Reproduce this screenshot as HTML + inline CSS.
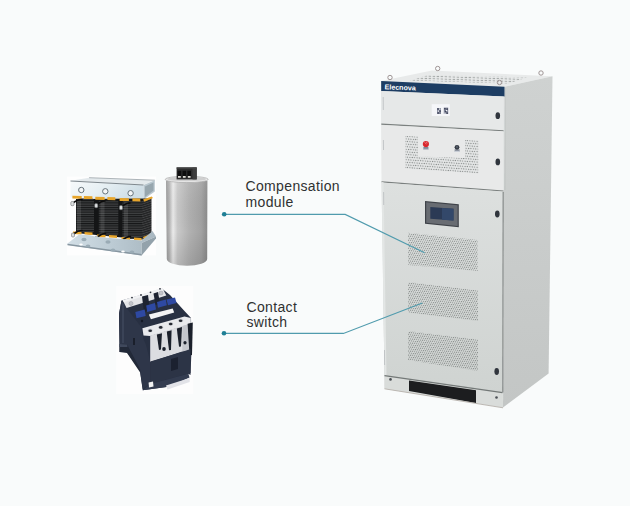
<!DOCTYPE html>
<html><head><meta charset="utf-8">
<style>
html,body{margin:0;padding:0;background:#f9fbfb;}
body{width:630px;height:506px;overflow:hidden;position:relative;font-family:"Liberation Sans",sans-serif;}
svg{position:absolute;left:0;top:0;}
.lbl{position:absolute;color:#2f3131;font-size:14px;line-height:15.8px;white-space:nowrap;letter-spacing:0.35px;}
</style></head>
<body>
<svg width="630" height="506" viewBox="0 0 630 506">
<defs>
  <pattern id="perf" width="2" height="4.1" patternUnits="userSpaceOnUse" patternTransform="skewY(6.5)">
        <circle cx="0.5" cy="1" r="0.52" fill="#6a6e6d"/>
    <circle cx="1.5" cy="3.05" r="0.52" fill="#6a6e6d"/>
  </pattern>
  <pattern id="perf2" width="2.4" height="5.2" patternUnits="userSpaceOnUse" patternTransform="skewY(4)">
    <rect width="2.4" height="5.2" fill="#e5e7e7"/>
    <circle cx="0.6" cy="1.3" r="0.55" fill="#6a6e6d"/>
    <circle cx="1.8" cy="3.9" r="0.55" fill="#6a6e6d"/>
  </pattern>
  <pattern id="perfTop" width="4" height="2.4" patternUnits="userSpaceOnUse" patternTransform="skewY(2)">
    <rect width="4" height="2.4" fill="#e9ebeb"/>
    <rect x="0.6" y="0.7" width="2.6" height="1" fill="#a4a8a7"/>
  </pattern>
  <linearGradient id="door" x1="0" y1="0" x2="0" y2="1">
    <stop offset="0" stop-color="#dde0df"/>
    <stop offset="1" stop-color="#cfd3d1"/>
  </linearGradient>
  <linearGradient id="side" x1="0" y1="0" x2="0" y2="1">
    <stop offset="0" stop-color="#cfd2d1"/>
    <stop offset="1" stop-color="#c3c6c5"/>
  </linearGradient>
  <linearGradient id="cap" x1="0" y1="0" x2="1" y2="0">
    <stop offset="0" stop-color="#999999"/>
    <stop offset="0.08" stop-color="#b4b4b4"/>
    <stop offset="0.17" stop-color="#ebebeb"/>
    <stop offset="0.28" stop-color="#c9c9c9"/>
    <stop offset="0.55" stop-color="#b2b2b2"/>
    <stop offset="0.85" stop-color="#a2a2a2"/>
    <stop offset="1" stop-color="#8b8b8b"/>
  </linearGradient>
  <linearGradient id="capV" x1="0" y1="0" x2="0" y2="1">
    <stop offset="0" stop-color="#ffffff" stop-opacity="0.08"/>
    <stop offset="0.6" stop-color="#000000" stop-opacity="0"/>
    <stop offset="1" stop-color="#000000" stop-opacity="0.10"/>
  </linearGradient>
  <linearGradient id="bracket" x1="0" y1="0" x2="1" y2="0.3">
    <stop offset="0" stop-color="#f7fafb"/>
    <stop offset="0.5" stop-color="#e6eff3"/>
    <stop offset="1" stop-color="#cfdee6"/>
  </linearGradient>
  <linearGradient id="base" x1="0" y1="0" x2="1" y2="0">
    <stop offset="0" stop-color="#d3dfe6"/>
    <stop offset="0.5" stop-color="#bccbd4"/>
    <stop offset="1" stop-color="#a8b7c0"/>
  </linearGradient>
  <pattern id="coil" width="4" height="2.3" patternUnits="userSpaceOnUse">
    <rect width="4" height="2.3" fill="#161718"/>
    <rect y="1.2" width="4" height="0.9" fill="#4a4c4e"/>
  </pattern>
  <pattern id="coilS" width="4" height="2.3" patternUnits="userSpaceOnUse" patternTransform="skewY(-18)">
    <rect width="4" height="2.3" fill="#222324"/>
    <rect y="1.4" width="4" height="0.7" fill="#4b4d4f"/>
  </pattern>
</defs>

<!-- ============ CABINET ============ -->
<polygon points="381,81 432,70.5 552.5,76.3 504.5,86.8" fill="#e8eaea"/>
<polygon points="410,80.5 428,75 527,77.5 508,83.5" fill="url(#perfTop)"/>
<polygon points="504.5,86.8 552.5,76.3 548.6,373.5 503,407.6" fill="url(#side)"/>
<line x1="505" y1="88" x2="505" y2="190" stroke="#bfc3c2" stroke-width="1"/>
<polygon points="381,81 504.5,86.8 503,407.6 384.5,388.7" fill="#dde0df"/>
<!-- navy band -->
<polygon points="381.2,81.1 504.5,86.8 504.5,96.5 381.2,91" fill="#1d3d63"/>
<text x="384.5" y="89.3" font-family="Liberation Sans" font-weight="bold" font-size="7.1" fill="#ffffff" transform="rotate(2.2 384.5 89.3)">Elecnova</text>
<!-- panel 1 -->
<polygon points="381.3,91 503.8,96.5 503.8,130.5 381.3,124" fill="#e6e8e8"/>
<line x1="381.3" y1="124.2" x2="503.5" y2="130.8" stroke="#7b807f" stroke-width="1.3"/>
<rect x="431.7" y="104.2" width="18.1" height="11.8" fill="#f5f6f9"/>
<g fill="#7d8296">
  <rect x="437" y="108" width="4" height="6"/>
  <rect x="443.8" y="107.6" width="4.4" height="6.4"/>
</g>
<g fill="#3f4458">
  <rect x="437.3" y="108.3" width="1.4" height="1.4"/><rect x="439.5" y="110.5" width="1.3" height="1.3"/><rect x="437.5" y="112.3" width="1.4" height="1.4"/>
  <rect x="444.1" y="108" width="1.5" height="1.4"/><rect x="446.6" y="108.4" width="1.4" height="1.4"/><rect x="445" y="111" width="1.4" height="1.4"/><rect x="446.6" y="112.5" width="1.4" height="1.3"/>
</g>
<g fill="#f5f6f9">
  <rect x="439.2" y="108.4" width="1.2" height="1.4"/><rect x="437.8" y="110.5" width="1.2" height="1.2"/>
  <rect x="446" y="110" width="1.2" height="1.2"/><rect x="444.3" y="112.6" width="1.3" height="1.2"/>
</g>
<ellipse cx="497.8" cy="115.7" rx="2.3" ry="3.4" fill="#30353d"/>
<!-- panel 2 -->
<polygon points="381.3,125 503.5,131.3 503.5,191 381.5,182" fill="#e8e9e9"/>
<line x1="381.5" y1="181.8" x2="503.5" y2="191.2" stroke="#7b807f" stroke-width="1.3"/>
<polygon points="405.4,136 418,136.6 418,156.5 465,158 465,140 478.3,140.6 478.3,173.6 405.4,168.6" fill="url(#perf2)"/>
<rect x="423.4" y="147" width="5" height="2.6" fill="#7d8594"/>
<rect x="423.4" y="148.8" width="5" height="0.8" fill="#c9ced8"/>
<circle cx="425.9" cy="144" r="3.1" fill="#d9262d"/>
<path d="M424.5,142.5 L426.5,144 M426,142 L427.5,143" stroke="#f3b5b5" stroke-width="0.6"/>
<rect x="454.6" y="149.2" width="5" height="2.6" fill="#8f96a2"/>
<rect x="454.6" y="151" width="5" height="0.8" fill="#d3d8e0"/>
<circle cx="457" cy="147.3" r="2.4" fill="#363c46"/>
<circle cx="457" cy="147" r="1" fill="#5d6470"/>
<ellipse cx="497.8" cy="161.9" rx="2.3" ry="3.4" fill="#30353d"/>
<!-- main door -->
<polygon points="381.5,182.5 503.5,191.5 502.5,392.5 384.5,375.4" fill="url(#door)"/>
<polygon points="381.5,182 383.5,182.2 386.5,375.6 384.5,375.4" fill="#e3e6e5"/>
<g stroke="#b9bdbf" stroke-width="0.8">
  <line x1="383.2" y1="97" x2="383.3" y2="110"/>
  <line x1="383.4" y1="140" x2="383.5" y2="150"/>
  <line x1="383.6" y1="192" x2="383.7" y2="205"/>
  <line x1="384.5" y1="350" x2="384.6" y2="365"/>
</g>
<!-- HMI -->
<polygon points="425,201 458.8,204.2 458.8,227.3 425,223.8" fill="#3e4248"/>
<polygon points="426.2,202.3 457.6,205.3 457.6,226 426.2,222.7" fill="#686c72"/>
<polygon points="430.3,207 453.5,208.8 453.5,220.6 430.3,218.8" fill="#2b3a55"/>
<polygon points="442,207.9 453.5,208.8 453.5,220.6 442,219.7" fill="#33486a"/>
<ellipse cx="497.3" cy="214" rx="2.3" ry="3.4" fill="#30353d"/>
<!-- perforated panels -->
<polygon points="408,232.8 477.6,240 477.6,271 408,265" fill="url(#perf)"/>
<polygon points="408,282 478,290.6 478,321 408,312.4" fill="url(#perf)"/>
<polygon points="408,331 478,339.6 478,371 408,360" fill="url(#perf)"/>
<ellipse cx="496.7" cy="371.5" rx="2.3" ry="3.4" fill="#30353d"/>
<line x1="503.2" y1="192" x2="502.8" y2="392.5" stroke="#8a8e8d" stroke-width="1.3"/>
<!-- plinth -->
<polygon points="384.5,375.4 502.5,392.5 503,407.6 384.5,388.7" fill="#d9dcda"/>
<line x1="384.5" y1="375.6" x2="502.5" y2="392.7" stroke="#737877" stroke-width="1.3"/>
<polygon points="409,380.6 476,390.3 476,403 409,391" fill="#1c1d1f"/>
<circle cx="390.5" cy="379.4" r="1.3" fill="#4b4f55"/>
<circle cx="496.5" cy="397.5" r="1.3" fill="#4b4f55"/>
<line x1="384.5" y1="388.8" x2="503" y2="407.8" stroke="#b0a9a3" stroke-width="0.8"/>

<!-- lifting eyes -->
<g fill="none" stroke="#958a8a" stroke-width="0.9">
  <circle cx="390" cy="77.5" r="2.2"/>
  <circle cx="437.7" cy="68.5" r="2.2"/>
  <circle cx="499.5" cy="82.5" r="2.2"/>
  <circle cx="541" cy="73" r="2.2"/>
</g>

<!-- ============ LEADER LINES ============ -->
<g stroke="#509bad" stroke-width="1.1" fill="none">
  <polyline points="224.2,214.4 345.2,214.4 424.6,252.8"/>
  <polyline points="224,333.4 343.4,333.4 422.4,303"/>
</g>
<circle cx="224.2" cy="214.3" r="2.3" fill="#1f7f95"/>
<circle cx="224" cy="333.3" r="2.3" fill="#1f7f95"/>

<!-- ============ REACTOR ============ -->
<rect x="67" y="176.5" width="89" height="79" fill="#fefefe"/>
<!-- top flange -->
<polygon points="70.5,180.7 89.1,177.7 154.8,180.2 143.6,184.7" fill="#e3e9ec"/>
<line x1="89.1" y1="177.7" x2="154.8" y2="180.2" stroke="#9aa3a8" stroke-width="0.8"/>
<!-- bracket face -->
<polygon points="70.5,181 143.6,185 143.6,199.5 70.5,197.5" fill="url(#bracket)"/>
<line x1="70.5" y1="181" x2="143.6" y2="185" stroke="#7f888e" stroke-width="1"/>
<!-- right channel -->
<polygon points="143.6,185 154.8,180.2 154.8,191.4 143.6,199.5" fill="#b9c7cf"/>
<polygon points="145,186.5 153.5,182.5 153.5,190.5 145,197" fill="#97a6ae"/>
<g fill="#f4f6f7" stroke="#66737b" stroke-width="1">
  <circle cx="81.3" cy="190" r="2.7"/>
  <circle cx="105.3" cy="191.3" r="2.7"/>
  <circle cx="130.6" cy="193.2" r="2.7"/>
</g>
<!-- coils -->
<polygon points="76,199 150,198.5 150,236 142,239.5 76,233" fill="#141516"/>
<rect x="76.5" y="198.5" width="17.5" height="34.5" rx="2.5" fill="url(#coil)"/>
<rect x="98.8" y="199.5" width="19.5" height="36.5" rx="2.5" fill="url(#coil)"/>
<rect x="122.4" y="200.5" width="20" height="38.5" rx="2.5" fill="url(#coil)"/>
<polygon points="142,201 151.5,198 151.5,235.5 142,239.5" fill="url(#coilS)"/>
<g fill="#ffffff" opacity="0.10">
  <rect x="77" y="200" width="4" height="32"/>
  <rect x="100.5" y="201" width="4" height="34"/>
  <rect x="124" y="202" width="4" height="36"/>
</g>
<!-- orange tabs -->
<g fill="#e7a52b">
  <polygon points="72.4,195.7 81.7,195.9 81.7,198.8 72.4,198.6"/>
  <polygon points="83.9,196 92.4,196.2 92.4,199.1 83.9,198.9"/>
  <polygon points="95.3,196.8 104.6,197 104.6,199.9 95.3,199.7"/>
  <polygon points="107.4,197.1 115.3,197.3 115.3,200.2 107.4,200"/>
  <polygon points="119.6,198 128.9,198.2 128.9,201.1 119.6,200.9"/>
  <polygon points="132.4,198.3 140.3,198.5 140.3,201.4 132.4,201.2"/>
  <polygon points="143,199.5 151.7,196.5 153,198 144.5,201.8"/>
  <polygon points="73,231.4 81.5,231.8 81.5,234.5 73,234.1"/>
  <polygon points="84.5,232 92.5,232.4 92.5,235 84.5,234.6"/>
  <polygon points="97,234.5 105.5,234.9 105.5,237.6 97,237.2"/>
  <polygon points="109,235 117,235.4 117,238 109,237.6"/>
  <polygon points="121.5,237 130,237.4 130,240 121.5,239.6"/>
  <polygon points="134,237.6 141.5,238 141.5,240.6 134,240.2"/>
  <polygon points="143,237 151.5,233.5 152.5,235.5 144,239.5"/>
</g>
<!-- lead wires -->
<g stroke="#0c0c0c" stroke-width="1.6" fill="none" stroke-linecap="round">
  <path d="M73,203 Q78,199 82,199.5"/>
  <path d="M96.5,205 Q101,201 105,201"/>
  <path d="M121,207 Q126,203 130,203"/>
  <path d="M73.5,234 Q78,230.5 82,230.5"/>
  <path d="M97,237.5 Q101.5,233.5 105.5,233.5"/>
  <path d="M122,240.5 Q126.5,236.5 130.5,236.5"/>
</g>
<!-- terminal screws -->
<g fill="#dcdedf" stroke="#5a5e61" stroke-width="0.5">
  <rect x="70.8" y="201.5" width="3.2" height="4.2" rx="1.2"/>
  <rect x="94.6" y="203.6" width="3.2" height="4.2" rx="1.2"/>
  <rect x="119.4" y="205.6" width="3.2" height="4.2" rx="1.2"/>
  <rect x="71.5" y="233" width="3" height="4" rx="1.1"/>
  <rect x="95.2" y="236" width="3" height="4" rx="1.1"/>
  <rect x="120" y="239.5" width="3" height="4" rx="1.1"/>
</g>
<!-- base plate -->
<polygon points="67.5,243.5 79,234.5 90,235.2 97,237 141.6,240.5 152.5,231 156,236.5 141.6,243 141.6,255.6 67.5,245" fill="url(#base)"/>
<polygon points="141.6,243 156,236.5 156,238.5 141.6,255.6" fill="#93a2ab"/>
<polygon points="67.5,243.8 141.6,254 141.6,255.6 67.5,245.2" fill="#8796a0"/>
<g fill="#9aabb5">
  <ellipse cx="84" cy="239.5" rx="2.6" ry="1.8"/>
  <ellipse cx="108" cy="242" rx="2.6" ry="1.8"/>
  <ellipse cx="88" cy="246" rx="2.4" ry="1.5"/>
  <ellipse cx="113" cy="250" rx="2.4" ry="1.5"/>
  <ellipse cx="132" cy="252" rx="2.4" ry="1.5"/>
</g>
<g fill="#ffffff">
  <ellipse cx="81" cy="244.5" rx="1.8" ry="1"/>
  <ellipse cx="123" cy="251.5" rx="1.8" ry="1"/>
</g>

<!-- ============ CAPACITOR ============ -->
<path d="M166,181 L166.8,259 A20.2,6.8 0 0 0 207.2,259 L207.4,181 Z" fill="url(#cap)"/>
<path d="M166,181 L166.8,259 A20.2,6.8 0 0 0 207.2,259 L207.4,181 Z" fill="url(#capV)"/>
<ellipse cx="186.7" cy="179.4" rx="21.4" ry="3.2" fill="#e9e9e9" stroke="#a9a9a9" stroke-width="0.7"/>
<ellipse cx="186.7" cy="178.9" rx="19.3" ry="2.3" fill="#cfcfcf"/>
<rect x="176.6" y="167.4" width="20.1" height="12" fill="#2c2c2c"/>
<rect x="192.5" y="167.6" width="4.2" height="11.8" fill="#3c3c3c"/>
<rect x="176.6" y="167.4" width="20.1" height="1.3" fill="#474747"/>
<g fill="#0e0e0e">
  <rect x="177.6" y="170.8" width="3.6" height="7"/>
  <rect x="182.5" y="170.8" width="3.6" height="7"/>
  <rect x="187.4" y="170.8" width="3.6" height="7"/>
</g>
<g fill="#e0ded8">
  <rect x="178" y="176" width="2.8" height="1.8"/>
  <rect x="182.9" y="176" width="2.8" height="1.8"/>
  <rect x="187.8" y="176" width="2.8" height="1.8"/>
</g>

<!-- ============ CONTACTOR ============ -->
<rect x="116.2" y="286" width="77" height="108" fill="#fdfdfd"/>
<!-- main dark body silhouette -->
<polygon points="121.5,300.5 162.5,289 170,295 184,310.6 191,318 191.5,350 190.5,375 188.4,373.8 170,386.5 142.7,390.3 139.7,369 126.8,352 119.5,352 119.5,344 119,313.8" fill="#283042"/>
<!-- left face -->
<polygon points="121.5,300.5 126.6,308 141.3,327.3 143.5,339 146,345 150.3,361.4 150.3,384 142.7,389 139.7,369 126.8,344.4 119.5,344 119,313.8" fill="#2e3649"/>
<polygon points="122,303 124,304 124,343 122,343" fill="#3a4357"/>
<!-- foot flange -->
<polygon points="119.5,344 127,344.4 140,369 140.5,373 127,353 119.5,352" fill="#222938"/>
<polygon points="119.5,344 127,344.4 127.5,347 119.5,347" fill="#3f485c"/>
<rect x="133" y="338" width="2" height="7" fill="#1a1f2b"/>
<!-- top white aux strip -->
<polygon points="122.7,300.3 162.5,288.1 166.3,295.5 126.6,308" fill="#e4e5e8"/>
<polygon points="122.7,300.3 162.5,288.1 163.6,290.3 123.8,302.3" fill="#f1f2f4"/>
<g fill="#c3c5ca" stroke="#9a9da4" stroke-width="0.5">
  <circle cx="131" cy="303.5" r="2"/>
  <circle cx="161" cy="293" r="2"/>
</g>
<g fill="#30353f">
  <circle cx="132" cy="297.6" r="0.9"/><circle cx="141" cy="295" r="0.9"/>
  <circle cx="150.5" cy="292.3" r="0.9"/><circle cx="160" cy="288.8" r="0.9"/>
</g>
<!-- dark tongues -->
<polygon points="142,296.5 148,295 150,310 144,312" fill="#1d2331"/>
<polygon points="153.5,293.5 158,292 160,303.5 155.5,305" fill="#1d2331"/>
<!-- blue squares -->
<polygon points="135.3,312 144.7,309.6 145.7,316 136.5,318.2" fill="#2e49a2"/>
<polygon points="146.2,305.5 155,303 156,309.5 147.2,312" fill="#2e49a2"/>
<polygon points="157,302 165.8,299.6 166.8,305.3 158,307.8" fill="#2e49a2"/>
<polygon points="166.5,299.6 175,297.5 176.5,303 168,305.3" fill="#2e49a2"/>
<circle cx="142" cy="321" r="1.2" fill="#141925"/>
<!-- white label -->
<polygon points="148.9,314.4 172.7,308.4 174.2,312.6 150.9,319.3" fill="#f3f3f4"/>
<!-- front terminal block -->
<polygon points="142.4,328.3 184.5,316.6 190.8,318 190.8,324 150.2,336 143.5,335.5" fill="#e9eaed"/>
<polygon points="150.2,335.5 190.8,323.5 190.8,350 182.3,351.5 150.2,362" fill="#dcdde1"/>
<polygon points="182.3,326 190.8,323.5 190.8,350 182.3,351.5" fill="#c4c6cc"/>
<g fill="#d0d2d7">
  <ellipse cx="150.2" cy="330.5" rx="2.6" ry="1.9"/>
  <ellipse cx="160.7" cy="327.2" rx="2.6" ry="1.9"/>
  <ellipse cx="170.7" cy="323.8" rx="2.6" ry="1.9"/>
  <ellipse cx="180.6" cy="320.5" rx="2.6" ry="1.9"/>
</g>
<g fill="#262a33">
  <ellipse cx="150.2" cy="330.7" rx="1.8" ry="1.3"/>
  <ellipse cx="160.7" cy="327.4" rx="1.8" ry="1.3"/>
  <ellipse cx="170.7" cy="324" rx="1.8" ry="1.3"/>
  <ellipse cx="180.6" cy="320.7" rx="1.8" ry="1.3"/>
</g>
<!-- black fingers -->
<g fill="#1b202b">
  <polygon points="156.8,334.6 162,333.2 161,349.5 159,350"/>
  <polygon points="166.8,331.6 171.6,330.3 171,350 169,350.3"/>
  <polygon points="176.8,328.4 182,327 181,346.5 179,346.8"/>
  <polygon points="187.6,323.8 192.8,322.5 192,355 189.5,355.5"/>
</g>
<ellipse cx="164" cy="349" rx="1.8" ry="2" fill="#1b202b"/>
<ellipse cx="185" cy="342.7" rx="1.6" ry="1.8" fill="#1b202b"/>
<!-- lower dark front -->
<polygon points="150.3,361.4 182,352 190.5,349 190.5,373 150.3,384" fill="#2c3446"/>
<polygon points="171,359 178,357 178,369 171,371" fill="#1b2130"/>
<!-- base bottom flange -->
<polygon points="150.3,384 188.4,373.8 189.5,377.5 170,386.5 142.7,390.3" fill="#333c50"/>
<!-- white clip -->
<polygon points="166,385.5 189.7,378 189.7,382 167.5,389.5" fill="#e2e3e8"/>
<polygon points="148.6,382.5 153,381.5 153.5,386.5 149,387.5" fill="#f2f2f2"/>
</svg>

<div class="lbl" style="left:245.5px;top:179.3px;">Compensation<br>module</div>
<div class="lbl" style="left:246.5px;top:299.6px;">Contact<br>switch</div>
</body></html>
